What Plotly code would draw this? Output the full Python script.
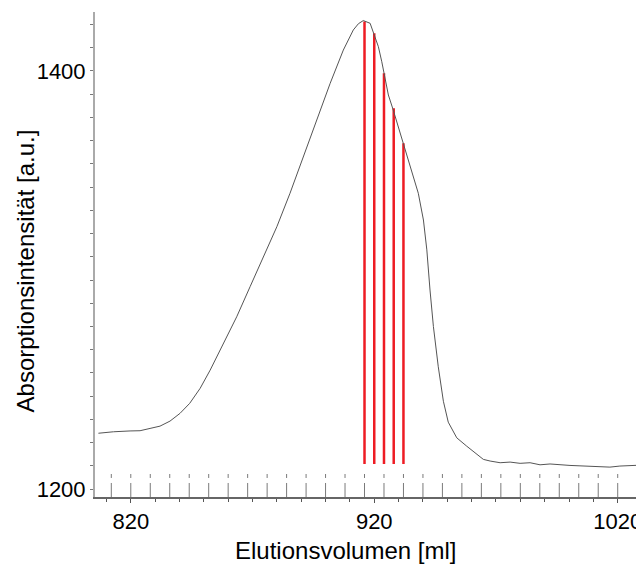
import plotly.graph_objects as go

# Chromatogram trace (elution volume in ml, absorption intensity a.u.)
volume = [806.7, 812.9, 819.7, 823.8, 827.9, 832.0, 836.1, 840.2, 844.2, 848.5,
          852.6, 858.0, 863.5, 869.0, 874.5, 880.0, 885.4, 890.9, 896.4, 901.9,
          907.3, 911.4, 913.5, 915.5, 918.3, 919.9, 921.7, 923.1, 924.4, 925.8,
          927.8, 929.9, 931.9, 934.0, 936.1, 938.1, 940.2, 941.6, 942.9, 944.3,
          946.3, 948.4, 950.4, 953.9, 958.0, 962.1, 964.8, 967.6, 971.7, 975.8,
          979.9, 984.0, 988.1, 992.2, 996.3, 1000.4, 1004.5, 1010.0, 1016.8,
          1020.9, 1025.0, 1030.5]
intensity = [1226.7, 1227.4, 1227.8, 1227.9, 1229.0, 1230.1, 1232.5, 1236.2, 1241.0, 1248.2,
             1256.9, 1269.7, 1282.4, 1296.8, 1311.1, 1325.5, 1341.5, 1359.0, 1376.6, 1394.1,
             1410.0, 1419.6, 1422.6, 1424.1, 1422.8, 1418.0, 1411.6, 1404.4, 1397.3, 1388.5,
             1381.3, 1373.3, 1365.4, 1357.4, 1349.4, 1341.5, 1328.7, 1314.4, 1295.2, 1277.7,
             1258.5, 1242.0, 1232.0, 1224.5, 1220.5, 1216.5, 1214.2, 1213.4, 1212.6, 1212.9,
             1212.3, 1212.6, 1211.6, 1212.0, 1211.5, 1211.3, 1211.1, 1210.9, 1210.5,
             1211.0, 1211.3, 1211.5]

# Selected fractions (red lines)
red_volume = [916, 920, 924, 928, 932]
red_top = [1423.6, 1418.0, 1398.9, 1382.2, 1365.4]
red_bottom = 1212.0

# Fraction markers every 8 ml
fraction_volume = [812 + 8 * i for i in range(28)]
frac_low = (1196.2, 1202.9)
frac_high = (1205.3, 1207.2)

y_ticks = [1200, 1400]
x_ticks = [820, 920, 1020]

x_title = "Elutionsvolumen [ml]"
y_title = "Absorptionsintensität [a.u.]"

fig = go.Figure()

# fraction markers
fx, fy = [], []
for v in fraction_volume:
    fx += [v, v, None, v, v, None]
    fy += [frac_low[0], frac_low[1], None, frac_high[0], frac_high[1], None]
fig.add_trace(go.Scatter(x=fx, y=fy, mode="lines",
                         line=dict(color="#7a7a7a", width=1), hoverinfo="skip",
                         showlegend=False))

# red fraction lines
rx, ry = [], []
for v, t in zip(red_volume, red_top):
    rx += [v, v, None]
    ry += [red_bottom, t, None]
fig.add_trace(go.Scatter(x=rx, y=ry, mode="lines",
                         line=dict(color="#ee1c24", width=2.5), showlegend=False))

# chromatogram
fig.add_trace(go.Scatter(x=volume, y=intensity, mode="lines",
                         line=dict(color="#555555", width=1), showlegend=False))

font_family = "Liberation Sans, Arial, sans-serif"
fig.update_layout(
    width=644, height=568,
    margin=dict(l=87, r=8, t=4, b=79),
    paper_bgcolor="white", plot_bgcolor="white",
    font=dict(family=font_family, size=22, color="black"),
    showlegend=False,
    annotations=[
        dict(text=x_title, xref="paper", yref="paper", x=0.457, y=-0.1113,
             xanchor="center", yanchor="middle", showarrow=False,
             font=dict(size=24, color="black")),
        dict(text=y_title, xref="paper", yref="paper", x=-0.1275, y=0.465,
             xanchor="center", yanchor="middle", showarrow=False, textangle=-90,
             font=dict(size=24, color="black")),
    ],
)
fig.update_xaxes(
    range=[805.3, 1030.8], tickvals=x_ticks, ticks="outside", ticklen=4,
    tickcolor="#555555", showgrid=False, zeroline=False, automargin=False,
    showline=True, linecolor="#666666", linewidth=1.5,
    minor=dict(dtick=10, tick0=820, ticks="outside", ticklen=3, tickcolor="#555555"),
    tickfont=dict(size=22),
)
fig.update_yaxes(
    range=[1196.2, 1428.2], tickvals=y_ticks, ticks="outside", ticklen=3,
    tickcolor="#777777", showgrid=False, zeroline=False, automargin=False,
    showline=True, linecolor="#aaaaaa", linewidth=2,
    minor=dict(dtick=200 / 18, tick0=1200, ticks="outside", ticklen=3, tickcolor="#777777"),
    tickfont=dict(size=22),
)

fig.write_html("out.html")
